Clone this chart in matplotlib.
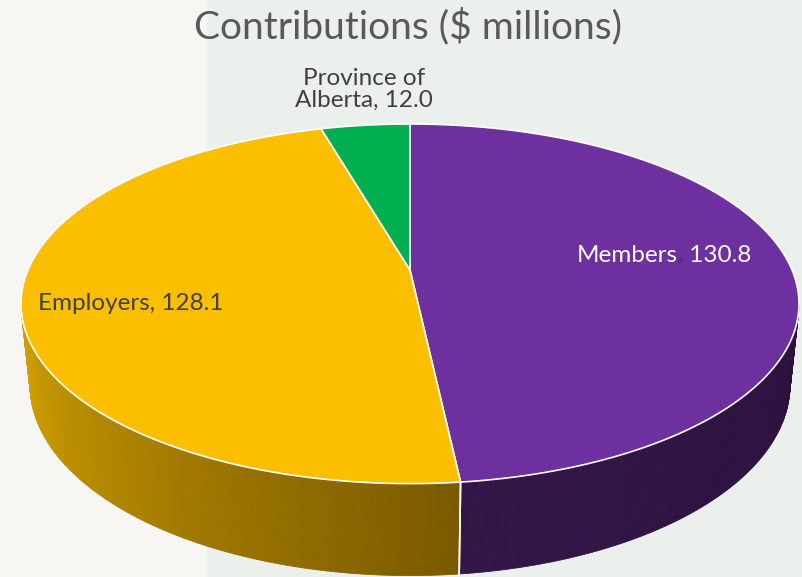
import numpy as np
import matplotlib.pyplot as plt
from matplotlib.patches import Polygon, Rectangle
from matplotlib.colors import to_rgb

labels = ['Members', 'Employers', 'Province of\nAlberta']
values = [130.8, 128.1, 12.0]
top_colors = ['#6E2F9F', '#FBBF00', '#00AF50']
side_light = ['#321648', '#D8A500', '#00803A']
side_dark = ['#2B113D', '#7A5A00', '#005A28']

plt.rcParams['font.family'] = ['Lato', 'DejaVu Sans']

# camera for the tilted pie
elev = np.radians(27)
dist = 4.74
focal = 1811
cx, cy = 410, 270
thick = 0.24
s, c = np.sin(elev), np.cos(elev)


def proj(theta, z=0.0):
    X, Y = np.cos(theta), np.sin(theta)
    depth = dist + Y * c - z * s
    u = X / depth
    v = (Y * s + z * c) / depth
    return cx + focal * u, cy - focal * v


fig = plt.figure(figsize=(8.02, 5.77), dpi=100)
ax = fig.add_axes([0, 0, 1, 1])
ax.set_xlim(0, 802)
ax.set_ylim(577, 0)
ax.axis('off')

ax.add_patch(Rectangle((0, 0), 207, 577, color='#F7F6F2', zorder=0))
ax.add_patch(Rectangle((207, 0), 595, 577, color='#EBF0EC', zorder=0))

# slice angles, clockwise from 12 o'clock
total = sum(values)
starts, ends = [], []
a = np.pi / 2
for v in values:
    starts.append(a)
    a -= v / total * 2 * np.pi
    ends.append(a)

# visible side arc
lim = np.arcsin(c / dist)
vis_lo = np.pi + lim
vis_hi = 2 * np.pi - lim


def norm(t):
    return t % (2 * np.pi)


# sides
for i in range(len(values)):
    a0, a1 = norm(ends[i]), norm(starts[i])
    if a1 < a0:
        a1 += 2 * np.pi
    for off in (0, 2 * np.pi, -2 * np.pi):
        lo = max(a0 + off, vis_lo)
        hi = min(a1 + off, vis_hi)
        if hi <= lo:
            continue
        n = max(int((hi - lo) / 0.01), 2)
        ts = np.linspace(lo, hi, n + 1)
        cl, cd = np.array(to_rgb(side_light[i])), np.array(to_rgb(side_dark[i]))
        for k in range(n):
            t0, t1 = ts[k], ts[k + 1]
            x0, y0 = proj(t0)
            x1, y1 = proj(t1)
            x2, y2 = proj(t1, -thick)
            x3, y3 = proj(t0, -thick)
            f = (0.5 * (t0 + t1) - lo) / max(hi - lo, 1e-6)
            col = cl + (cd - cl) * np.clip(f, 0, 1)
            ax.add_patch(Polygon([(x0, y0), (x1, y1), (x2, y2), (x3, y3)],
                                 closed=True, facecolor=col, edgecolor=col,
                                 lw=0.6, zorder=2))
        # radial edge on side
        for t in (lo, hi):
            if abs(t - vis_lo) > 1e-6 and abs(t - vis_hi) > 1e-6:
                xa, ya = proj(t)
                xb, yb = proj(t, -thick)
                ax.plot([xa, xb], [ya, yb], color='white', lw=1.2, zorder=3)

# top faces
for i in range(len(values)):
    ts = np.linspace(starts[i], ends[i], 200)
    pts = [proj(t) for t in ts]
    pts = [(cx, cy)] + pts
    ax.add_patch(Polygon(pts, closed=True, facecolor=top_colors[i],
                         edgecolor='white', lw=1.2, zorder=4))

# labels
ax.text(408, 26, 'Contributions ($ millions)', ha='center', va='center',
        fontsize=28, color='#595959', zorder=6)
ax.text(364, 89, labels[2] + ', %.1f' % values[2], ha='center', va='center',
        fontsize=17.5, color='#404040', linespacing=1.05, zorder=6)
ax.text(38, 304, labels[1] + ', %.1f' % values[1], ha='left', va='center',
        fontsize=17.5, color='#404040', zorder=6)
t1 = ax.text(577, 255, labels[0], ha='left', va='center',
             fontsize=17.5, color='white', zorder=6)
t2 = ax.annotate(',', xy=(1, 0), xycoords=t1, ha='left', va='bottom',
                 fontsize=17.5, color='#404040', zorder=6)
ax.annotate(' %.1f' % values[0], xy=(1, 0), xycoords=t2, ha='left',
            va='bottom', fontsize=17.5, color='white', zorder=6)

fig.savefig('out.png', dpi=100)
